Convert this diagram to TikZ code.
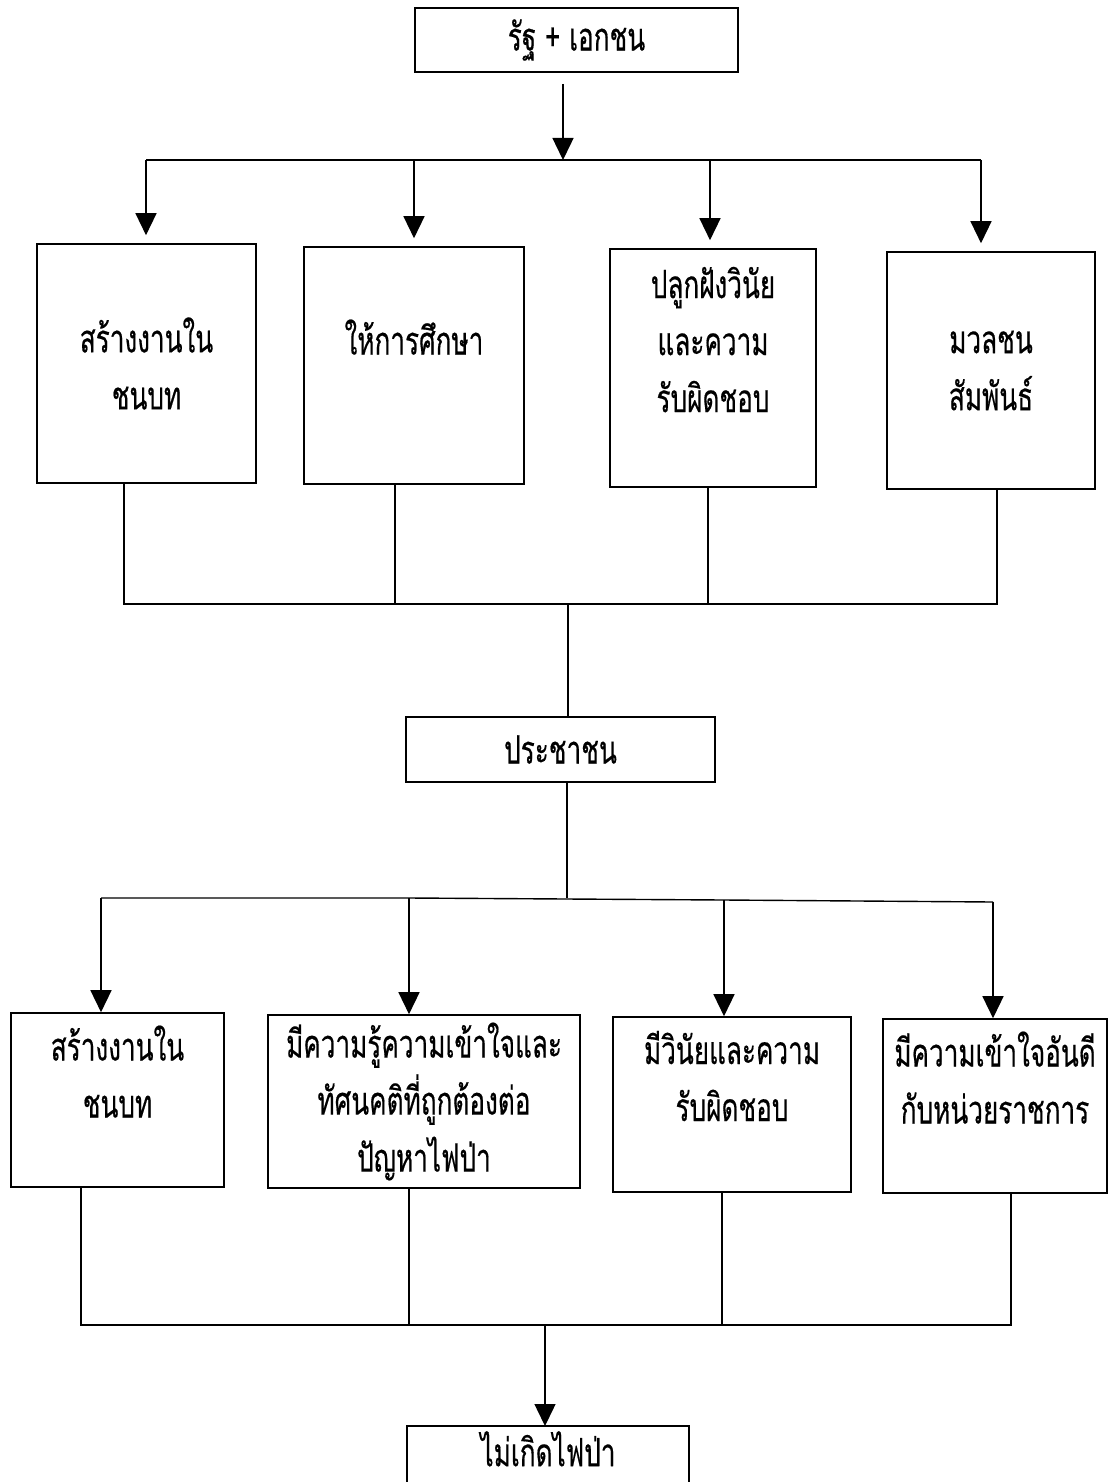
\documentclass[tikz,border=0pt]{standalone}
\usepackage{fontspec}
\newfontfamily\thaifont[Script=Thai,FakeStretch=0.67,FakeBold=0.4]{Loma}
\usetikzlibrary{arrows.meta}
\begin{document}
\begin{tikzpicture}[x=1pt,y=-1pt,
  box/.style={draw, line width=1.6pt, inner sep=0pt, align=center,
    font=\thaifont\fontsize{39}{57}\selectfont},
  arr/.style={-{Triangle[width=21pt,length=22pt]}, line width=1.4pt},
  ln/.style={line width=1.4pt}]
\useasboundingbox (0,0) rectangle (1119,1482);
\clip (0,0) rectangle (1119,1482);
\fill[white] (0,0) rectangle (1119,1482);
% top
\node[box, minimum width=323pt, minimum height=64pt] (T) at (576.5,40) {รัฐ + เอกชน};
% row A
\node[box, minimum width=219pt, minimum height=239pt] (A1) at (146.5,363.5) {สร้างงานใน\\ชนบท};
\node[box, minimum width=220pt, minimum height=237pt] (A2) at (414,365.5) {ให้การศึกษา\\\vphantom{ก}};
\node[box, minimum width=206pt, minimum height=238pt] (A3) at (713,368) {ปลูกฝังวินัย\\และความ\\รับผิดชอบ\\\vphantom{ก}};
\node[box, minimum width=208pt, minimum height=237pt] (A4) at (991,370.5) {มวลชน\\สัมพันธ์};
% middle
\node[box, minimum width=309pt, minimum height=65pt] (P) at (560.5,749.5) {ประชาชน};
% row B
\node[box, minimum width=213pt, minimum height=174pt] (B1) at (117.5,1100) {สร้างงานใน\\ชนบท\\\vphantom{ก}};
\node[box, minimum width=312pt, minimum height=173pt] (B2) at (424,1101.5) {มีความรู้ความเข้าใจและ\\ทัศนคติที่ถูกต้องต่อ\\ปัญหาไฟป่า};
\node[box, minimum width=238pt, minimum height=175pt] (B3) at (732,1104.5) {มีวินัยและความ\\รับผิดชอบ\\\vphantom{ก}};
\node[box, minimum width=224pt, minimum height=174pt] (B4) at (995,1106) {มีความเข้าใจอันดี\\กับหน่วยราชการ\\\vphantom{ก}};
% final (its frame runs off the bottom edge, as in the reference)
\node[box, draw=none, minimum width=280pt, minimum height=44pt, anchor=north] (F) at (548,1426) {ไม่เกิดไฟป่า};
\draw[line width=1.6pt] ([yshift=-40pt]F.south west) -- (F.north west) -- (F.north east) -- ([yshift=-40pt]F.south east);

% coordinates of junctions
\coordinate (j0) at (563,160);
\coordinate (a1) at (146,160);
\coordinate (a2) at (414,160);
\coordinate (a3) at (710,160);
\coordinate (a4) at (981,160);
\coordinate (d1) at (124,604);
\coordinate (d2) at (395,604);
\coordinate (d3) at (708,604);
\coordinate (d4) at (997,604);
\coordinate (m0) at (568,604);
\coordinate (k0) at (567,898);
\coordinate (b1) at (101,898);
\coordinate (b2) at (409,898);
\coordinate (b3) at (724,900);
\coordinate (b4) at (993,902);
\coordinate (e1) at (81,1325);
\coordinate (e2) at (409,1325);
\coordinate (e3) at (722,1325);
\coordinate (e4) at (1011,1325);
\coordinate (f0) at (545,1325);

% top to row A
\draw[arr] (j0 |- T.south) ++(0,11) -- (j0);
\draw[ln] (a1) -- (a4);
\draw[arr, shorten >=8pt] (a1) -- (a1 |- A1.north);
\draw[arr, shorten >=8pt] (a2) -- (a2 |- A2.north);
\draw[arr, shorten >=8pt] (a3) -- (a3 |- A3.north);
\draw[arr, shorten >=8pt] (a4) -- (a4 |- A4.north);
% row A to P
\draw[ln] (d1 |- A1.south) -- (d1) -- (d4) -- (d4 |- A4.south);
\draw[ln] (d2 |- A2.south) -- (d2);
\draw[ln] (d3 |- A3.south) -- (d3);
\draw[ln] (m0) -- (m0 |- P.north);
% P to row B
\draw[ln] (k0 |- P.south) -- (k0);
\draw[ln] (b1) -- (b2) -- (b3) -- (b4);
\draw[arr] (b1) -- (b1 |- B1.north);
\draw[arr] (b2) -- (b2 |- B2.north);
\draw[arr] (b3) -- (b3 |- B3.north);
\draw[arr] (b4) -- (b4 |- B4.north);
% row B to F
\draw[ln] (e1 |- B1.south) -- (e1) -- (e4) -- (e4 |- B4.south);
\draw[ln] (e2 |- B2.south) -- (e2);
\draw[ln] (e3 |- B3.south) -- (e3);
\draw[arr] (f0) -- (f0 |- F.north);
\end{tikzpicture}
\end{document}
